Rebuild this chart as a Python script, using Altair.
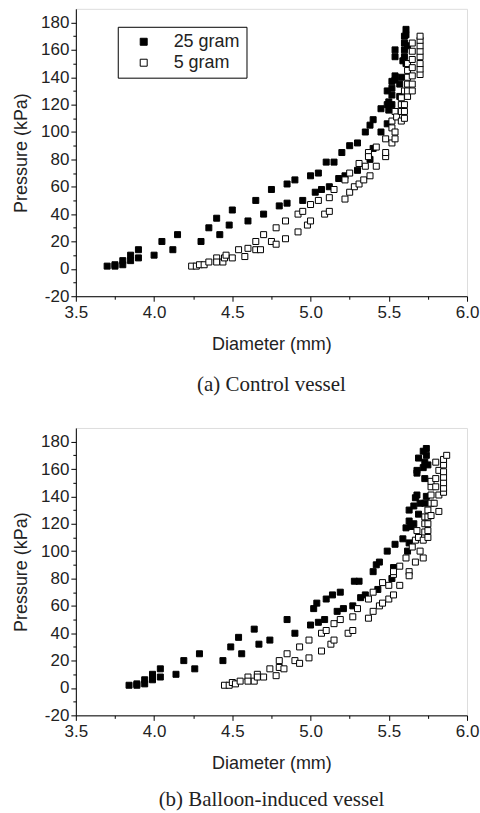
import altair as alt
import pandas as pd

# (a) Control vessel: (diameter mm, pressure kPa)
ctrl_25 = [(3.70,2),(3.75,2),(3.75,3),(3.80,3),(3.80,6),(3.85,6),(3.85,10),(3.90,8),(3.90,14),
           (4.00,10),(4.05,20),(4.12,14),(4.15,25),(4.30,20),(4.35,30),(4.40,37),(4.42,25),(4.48,32),
           (4.50,43),(4.60,35),(4.65,50),(4.70,40),(4.75,58),(4.80,46),(4.85,48),(4.85,62),(4.90,65),
           (4.95,50),(5.00,68),(5.03,56),(5.05,70),(5.07,58),(5.10,78),(5.12,60),(5.15,78),(5.18,66),
           (5.20,85),(5.22,68),(5.25,90),(5.30,72),(5.30,92),(5.35,100),(5.38,80),(5.38,105),(5.40,88),
           (5.40,109),(5.45,117),(5.45,100),(5.49,106),(5.49,120),(5.50,116),(5.50,122),(5.49,130),
           (5.52,132),(5.52,137),(5.52,120),(5.52,127),(5.54,160),(5.54,155),(5.54,141),(5.54,138),
           (5.57,126),(5.57,135),(5.58,140),(5.59,152),(5.60,155),(5.60,160),(5.60,165),(5.60,170),
           (5.61,150),(5.61,171),(5.61,175),(5.62,163)]
ctrl_5 = [(4.24,2),(4.27,2),(4.29,3),(4.32,3),(4.35,5),(4.40,8),(4.40,5),(4.44,5),(4.45,8),(4.46,10),
          (4.50,8),(4.54,14),(4.58,9),(4.60,15),(4.65,14),(4.65,20),(4.68,14),(4.70,25),(4.75,20),
          (4.78,30),(4.78,18),(4.84,35),(4.84,22),(4.92,40),(4.92,27),(4.95,42),(4.98,32),(5.00,35),
          (5.00,47),(5.05,50),(5.09,40),(5.12,42),(5.12,52),(5.15,58),(5.22,51),(5.22,65),(5.25,56),
          (5.25,70),(5.28,60),(5.31,62),(5.31,77),(5.34,65),(5.35,75),(5.37,85),(5.37,82),(5.38,68),
          (5.42,89),(5.42,75),(5.48,82),(5.48,85),(5.48,95),(5.52,92),(5.52,103),(5.52,108),(5.54,95),
          (5.54,100),(5.54,115),(5.55,111),(5.58,108),(5.58,115),(5.58,120),(5.58,125),(5.60,110),
          (5.60,115),(5.60,120),(5.60,130),(5.62,126),(5.62,130),(5.62,135),(5.62,140),(5.62,145),
          (5.62,150),(5.65,130),(5.65,135),(5.65,141),(5.65,147),(5.65,153),(5.65,159),(5.65,165),
          (5.70,142),(5.70,146),(5.70,150),(5.70,155),(5.70,159),(5.70,163),(5.70,167),(5.70,170)]

# (b) Balloon-induced vessel
ball_25 = [(3.84,2),(3.89,2),(3.89,3),(3.94,3),(3.94,6),(3.99,8),(3.99,10),(3.99,6),(4.04,14),
           (4.04,8),(4.14,10),(4.19,20),(4.26,14),(4.29,25),(4.44,20),(4.49,30),(4.54,37),(4.56,25),
           (4.64,43),(4.67,32),(4.74,35),(4.85,50),(4.90,40),(5.00,46),(5.02,58),(5.04,62),(5.05,48),
           (5.09,50),(5.10,65),(5.14,68),(5.17,56),(5.19,70),(5.21,58),(5.28,78),(5.31,78),(5.27,60),
           (5.32,66),(5.35,68),(5.40,85),(5.42,90),(5.44,92),(5.43,72),(5.49,100),(5.52,80),(5.53,88),
           (5.54,105),(5.59,109),(5.62,100),(5.63,106),(5.61,117),(5.63,122),(5.63,130),(5.66,133),
           (5.64,118),(5.66,120),(5.67,139),(5.68,141),(5.69,127),(5.70,135),(5.68,157),(5.68,159),
           (5.69,168),(5.72,173),(5.74,175),(5.72,161),(5.73,153),(5.74,140),(5.73,135),(5.73,165),
           (5.74,170),(5.75,163)]
ball_5 = [(4.45,2),(4.48,2),(4.50,4),(4.52,3),(4.55,5),(4.60,8),(4.60,5),(4.64,5),(4.66,10),(4.66,8),
          (4.70,8),(4.74,14),(4.78,9),(4.80,20),(4.80,15),(4.83,14),(4.85,25),(4.90,20),(4.93,18),
          (4.93,30),(4.99,35),(4.99,22),(5.07,40),(5.07,27),(5.10,42),(5.13,32),(5.15,35),(5.15,47),
          (5.19,50),(5.24,40),(5.27,42),(5.27,52),(5.30,58),(5.37,51),(5.37,65),(5.40,56),(5.40,70),
          (5.44,60),(5.46,62),(5.46,77),(5.50,65),(5.50,75),(5.53,68),(5.53,83),(5.53,85),(5.57,75),
          (5.57,89),(5.61,95),(5.63,85),(5.63,82),(5.65,103),(5.67,92),(5.67,108),(5.69,110),
          (5.70,100),(5.72,95),(5.68,115),(5.72,108),(5.73,114),(5.73,120),(5.73,125),(5.75,130),
          (5.75,125),(5.75,120),(5.75,110),(5.75,115),(5.77,126),(5.77,135),(5.77,141),(5.77,147),
          (5.77,151),(5.79,135),(5.80,147),(5.80,153),(5.80,165),(5.82,159),(5.82,141),(5.82,129),
          (5.85,143),(5.85,146),(5.85,150),(5.85,154),(5.85,158),(5.85,163),(5.85,167),(5.87,170)]

series_names = ["25 gram", "\u00a05 gram"]
x_ticks = [3.5 + 0.25 * i for i in range(11)]
y_ticks = list(range(-20, 190, 10))
captions = ["(a) Control vessel", "(b) Balloon-induced vessel"]

FONT = "Liberation Sans"


def frame(a, b):
    rows = [{"d": x, "p": y, "s": series_names[0]} for x, y in a]
    rows += [{"d": x, "p": y, "s": series_names[1]} for x, y in b]
    return pd.DataFrame(rows)


def panel(df, caption, lx, ly, cap_offset):
    x_axis = alt.Axis(
        values=x_ticks, title="Diameter (mm)", grid=False,
        labelExpr="abs(datum.value*2 - round(datum.value*2)) < 0.001 ? format(datum.value, '.1f') : ''",
        tickSize={"condition": {"test": "abs(datum.value*2 - round(datum.value*2)) < 0.001", "value": 5}, "value": 3},
        domainColor="black", tickColor="black", labelColor="#222", titleColor="#222",
        labelFont=FONT, titleFont=FONT, labelFontSize=17, titleFontSize=18,
        titleFontWeight="normal", labelPadding=3, titlePadding=15, labelFlush=False,
        labelOverlap=False,
    )
    y_axis = alt.Axis(
        values=y_ticks, title="Pressure (kPa)", grid=False,
        labelExpr="datum.value % 20 === 0 ? '' + datum.value : ''",
        tickSize={"condition": {"test": "datum.value % 20 === 0", "value": 5}, "value": 3},
        domainColor="black", tickColor="black", labelColor="#222", titleColor="#222",
        labelFont=FONT, titleFont=FONT, labelFontSize=17, titleFontSize=18,
        titleFontWeight="normal", labelPadding=2, titlePadding=10, labelFlush=False,
        labelOverlap=False,
    )
    return alt.Chart(df).mark_square(size=36, stroke="black", strokeWidth=1, opacity=1).encode(
        x=alt.X("d:Q", scale=alt.Scale(domain=[3.5, 6.0], nice=False, zero=False), axis=x_axis),
        y=alt.Y("p:Q", scale=alt.Scale(domain=[-20, 190], nice=False, zero=False), axis=y_axis),
        fill=alt.Fill("s:N", scale=alt.Scale(domain=series_names, range=["black", "white"]),
                      legend=alt.Legend(title=None, orient="none", legendX=lx, legendY=ly,
                                        strokeColor="black", padding=6, symbolType="square",
                                        symbolSize=49, symbolStrokeColor="black", symbolStrokeWidth=1,
                                        symbolOffset=11, labelOffset=21, labelFontSize=18,
                                        labelFont=FONT, labelColor="#222", rowPadding=3)),
    ).properties(
        width=392, height=288,
        title=alt.TitleParams(caption, orient="bottom", font="Liberation Serif", fontSize=21,
                              fontWeight="normal", color="#222", offset=cap_offset, anchor="middle"),
    )


top = panel(frame(ctrl_25, ctrl_5), captions[0], 42, 18, 21)
bottom = panel(frame(ball_25, ball_5), captions[1], 49, 17, 17)

chart = alt.vconcat(top, bottom, spacing=31).properties(
    padding={"left": 12, "top": 7, "right": 0, "bottom": 0}
).configure_view(stroke=None).configure(background="white")

chart.save("out.html", embed_options={"renderer": "svg", "actions": False})
